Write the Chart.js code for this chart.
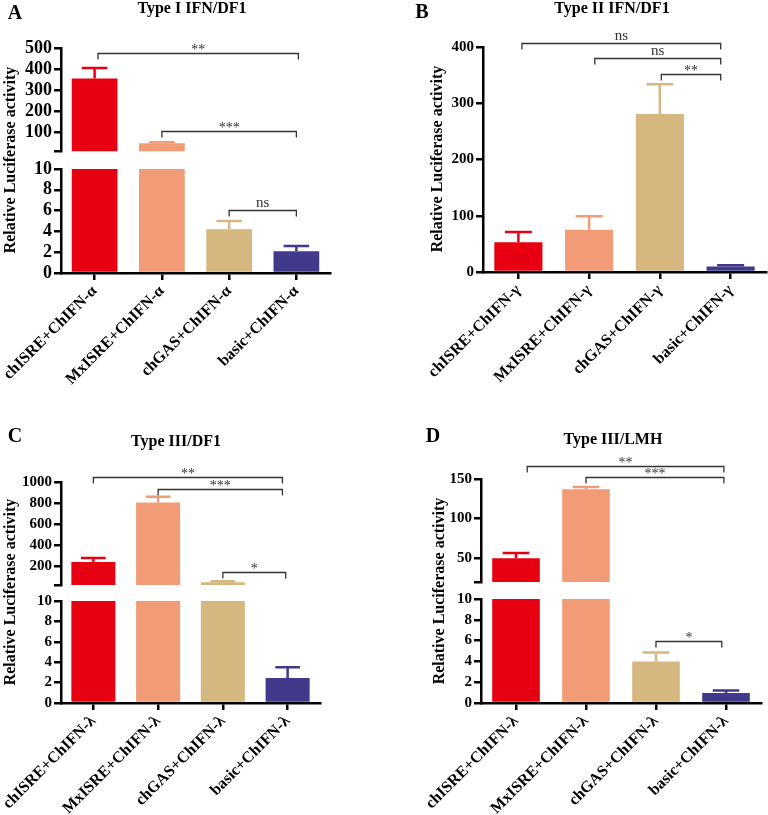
<!DOCTYPE html>
<html>
<head>
<meta charset="utf-8">
<script src="https://cdn.jsdelivr.net/npm/chart.js@4.4.1/dist/chart.umd.min.js"></script>
<style>
body { margin: 0; background: #fff; }
#fig { position: relative; width: 768px; height: 815px; overflow: hidden; font-family: "Liberation Serif", "Times New Roman", serif; color: #000; }
#fig canvas { position: absolute; }
.lbl { position: absolute; font-weight: bold; white-space: nowrap; transform: translate(-50%, -50%); }
.panel { font-size: 20px; }
.title { font-size: 16px; }
.ytitle { font-size: 16px; transform: translate(-50%, -50%) rotate(-90deg); }
</style>
</head>
<body>
<div id="fig"></div>
<script>
const barColors = ['#e60012', '#f19b77', '#d5b77f', '#40398c'];

const labelsA = ['chISRE+ChIFN-α', 'MxISRE+ChIFN-α', 'chGAS+ChIFN-α', 'basic+ChIFN-α'];
const labelsB = ['chISRE+ChIFN-γ', 'MxISRE+ChIFN-γ', 'chGAS+ChIFN-γ', 'basic+ChIFN-γ'];
const labelsL = ['chISRE+ChIFN-λ', 'MxISRE+ChIFN-λ', 'chGAS+ChIFN-λ', 'basic+ChIFN-λ'];

const valuesA = [355, 48, 4.2, 2.1];
const errorsA = [50, 4, 0.8, 0.5];
const valuesB = [53, 75, 281, 10];
const errorsB = [18, 24, 53, 2];
const valuesC = [238, 805, 45, 2.45];
const errorsC = [38, 55, 10, 1.05];
const valuesD = [50, 137, 4.0, 0.95];
const errorsD = [6.5, 3, 0.85, 0.25];

const lowerTicks = [0, 2, 4, 6, 8, 10];
const upperTicksA = [10, 100, 200, 300, 400, 500];
const ticksB = [0, 100, 200, 300, 400];
const upperTicksC = [20, 200, 400, 600, 800, 1000];
const upperTicksD = [20, 50, 100, 150];

// significance brackets: category index from/to, height in axis units
const bracketsA = [{ from: 0.05, to: 3.03, y: 476, text: '**' }, { from: 1, to: 3, y: 105, text: '***' }];
const bracketsALow = [{ from: 2, to: 3, y: 6.1, text: 'ns' }];
const bracketsB = [{ from: 0.05, to: 2.86, y: 407, text: 'ns' }, { from: 1.08, to: 2.86, y: 380, text: 'ns' }, { from: 2.02, to: 2.86, y: 352, text: '**' }];
const bracketsC = [{ from: 0, to: 2.92, y: 1048, text: '**' }, { from: 1, to: 2.92, y: 933, text: '***' }, { from: 2, to: 2.97, y: 143, text: '*' }];
const bracketsD = [{ from: 0.16, to: 2.97, y: 166, text: '**' }, { from: 1, to: 2.97, y: 152.5, text: '***' }];
const bracketsDLow = [{ from: 2, to: 2.94, y: 5.96, text: '*' }];

const SERIF = '"Liberation Serif", "Times New Roman", serif';
const Y_W = 70, PAD_T = 40, PAD_B = 12, PAD_R = 20, X_H = 130;
const fig = document.getElementById('fig');

const errorBarPlugin = {
    id: 'errorBars',
    afterDatasetsDraw(chart) {
        const { ctx, chartArea, scales: { y } } = chart;
        const ds = chart.data.datasets[0];
        const meta = chart.getDatasetMeta(0);
        ctx.save();
        ctx.beginPath();
        ctx.rect(chartArea.left, chartArea.top - 2, chartArea.width, chartArea.height + 1);
        ctx.clip();
        ctx.lineWidth = 2.5;
        meta.data.forEach((bar, i) => {
            const top = y.getPixelForValue(ds.data[i] + ds.errors[i]);
            const half = bar.width * 0.28;
            ctx.strokeStyle = barColors[i];
            ctx.beginPath();
            ctx.moveTo(bar.x, bar.y);
            ctx.lineTo(bar.x, top);
            ctx.moveTo(bar.x - half, top);
            ctx.lineTo(bar.x + half, top);
            ctx.stroke();
        });
        ctx.restore();
    }
};

const bracketPlugin = {
    id: 'brackets',
    afterDraw(chart) {
        const { ctx, scales: { x, y } } = chart;
        const list = chart.data.datasets[0].brackets || [];
        ctx.save();
        ctx.strokeStyle = '#333';
        ctx.fillStyle = '#333';
        ctx.lineWidth = 1.3;
        ctx.textAlign = 'center';
        ctx.textBaseline = 'alphabetic';
        list.forEach(b => {
            const x1 = x.getPixelForValue(b.from);
            const x2 = x.getPixelForValue(b.to);
            const py = Math.round(y.getPixelForValue(b.y)) + 0.5;
            ctx.beginPath();
            ctx.moveTo(x1, py + 6);
            ctx.lineTo(x1, py);
            ctx.lineTo(x2, py);
            ctx.lineTo(x2, py + 6);
            ctx.stroke();
            if (b.text === 'ns') {
                ctx.font = '15px ' + SERIF;
                ctx.fillText(b.text, (x1 + x2) / 2, py - 4);
            } else {
                ctx.font = '14px ' + SERIF;
                ctx.fillText(b.text, (x1 + x2) / 2, py);
            }
        });
        ctx.restore();
    }
};

function addSegment(box, labels, values, errors, yTicks, brackets, opts) {
    const canvas = document.createElement('canvas');
    const w = box.right - box.left + Y_W + PAD_R;
    const h = box.bottom - box.top + PAD_T + (opts.showX ? X_H : PAD_B);
    canvas.width = w;
    canvas.height = h;
    canvas.style.left = (box.left - Y_W) + 'px';
    canvas.style.top = (box.top - PAD_T) + 'px';
    canvas.style.width = w + 'px';
    canvas.style.height = h + 'px';
    fig.appendChild(canvas);

    const yMin = yTicks[0];
    const yMax = yTicks[yTicks.length - 1];
    const axisGrid = { offset: false, drawOnChartArea: false, drawTicks: true, tickLength: 7, lineWidth: 2.5, color: '#000' };

    new Chart(canvas.getContext('2d'), {
        type: 'bar',
        data: {
            labels: labels,
            datasets: [{
                data: values,
                errors: errors,
                brackets: brackets,
                backgroundColor: barColors,
                borderWidth: 0,
                inflateAmount: 0,
                clip: 0,
                barPercentage: 0.68,
                categoryPercentage: 1
            }]
        },
        options: {
            responsive: false,
            animation: false,
            layout: { padding: { top: PAD_T, right: PAD_R, bottom: opts.showX ? 0 : PAD_B, left: 0 } },
            plugins: { legend: { display: false }, tooltip: { enabled: false } },
            scales: {
                x: {
                    display: opts.showX,
                    offset: true,
                    grid: axisGrid,
                    border: { display: true, color: '#000', width: 2.5 },
                    ticks: {
                        color: '#000',
                        font: { family: SERIF, size: 16, weight: 'bold' },
                        minRotation: 45,
                        maxRotation: 45,
                        autoSkip: false,
                        padding: 2
                    },
                    afterFit: s => { s.height = opts.showX ? X_H : 0; }
                },
                y: {
                    min: yMin,
                    max: yMax,
                    grid: axisGrid,
                    border: { display: true, color: '#000', width: 2.5 },
                    ticks: {
                        color: '#000',
                        padding: 2,
                        autoSkip: false,
                        font: { family: SERIF, size: opts.tickSize, weight: 'bold' },
                        callback: v => (opts.broken && v === yMin) ? '' : v
                    },
                    afterBuildTicks: s => { s.ticks = yTicks.map(v => ({ value: v })); },
                    afterFit: s => { s.width = Y_W; }
                }
            }
        },
        plugins: [errorBarPlugin, bracketPlugin]
    });
}

function addText(text, cls, x, y) {
    const d = document.createElement('div');
    d.className = 'lbl ' + cls;
    d.textContent = text;
    d.style.left = x + 'px';
    d.style.top = y + 'px';
    fig.appendChild(d);
}

// Panel A
addSegment({ left: 61, right: 330, top: 48, bottom: 152 }, labelsA, valuesA, errorsA, upperTicksA, bracketsA, { showX: false, broken: true, tickSize: 18 });
addSegment({ left: 61, right: 330, top: 169, bottom: 273 }, labelsA, valuesA, errorsA, lowerTicks, bracketsALow, { showX: true, tickSize: 18 });
// Panel B
addSegment({ left: 483, right: 766, top: 47, bottom: 272 }, labelsB, valuesB, errorsB, ticksB, bracketsB, { showX: true, tickSize: 15 });
// Panel C
addSegment({ left: 61, right: 320, top: 482, bottom: 585 }, labelsL, valuesC, errorsC, upperTicksC, bracketsC, { showX: false, broken: true, tickSize: 15 });
addSegment({ left: 61, right: 320, top: 601, bottom: 703 }, labelsL, valuesC, errorsC, lowerTicks, [], { showX: true, tickSize: 15 });
// Panel D
addSegment({ left: 481, right: 761, top: 479, bottom: 582 }, labelsL, valuesD, errorsD, upperTicksD, bracketsD, { showX: false, broken: true, tickSize: 15 });
addSegment({ left: 481, right: 761, top: 599, bottom: 703 }, labelsL, valuesD, errorsD, lowerTicks, bracketsDLow, { showX: true, tickSize: 15 });

addText('A', 'panel', 15, 12);
addText('B', 'panel', 422, 11);
addText('C', 'panel', 15, 435);
addText('D', 'panel', 433, 435);
addText('Type I IFN/DF1', 'title', 192, 8);
addText('Type II IFN/DF1', 'title', 612, 8);
addText('Type III/DF1', 'title', 176, 441);
addText('Type III/LMH', 'title', 613, 439);
addText('Relative Luciferase activity', 'ytitle', 10, 160);
addText('Relative Luciferase activity', 'ytitle', 437, 159);
addText('Relative Luciferase activity', 'ytitle', 10, 592);
addText('Relative Luciferase activity', 'ytitle', 439, 591);
</script>
</body>
</html>
